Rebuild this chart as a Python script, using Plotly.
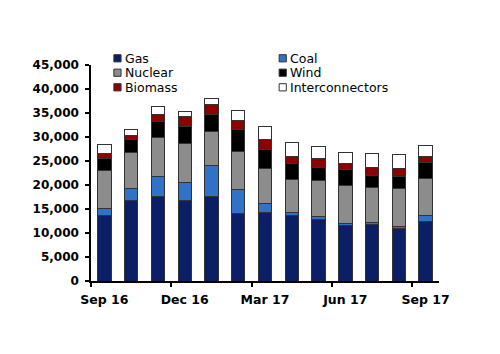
import plotly.graph_objects as go

months = ["Sep 16", "Oct 16", "Nov 16", "Dec 16", "Jan 17", "Feb 17", "Mar 17",
          "Apr 17", "May 17", "Jun 17", "Jul 17", "Aug 17", "Sep 17"]
tick_labels = ["Sep 16", "Dec 16", "Mar 17", "Jun 17", "Sep 17"]

gas = [13750, 16670, 17640, 16740, 17640, 13960, 14240, 13750, 12710, 11460, 11670, 10900, 12360]
coal = [1310, 2570, 4230, 3820, 6380, 5140, 1940, 490, 690, 550, 480, 420, 1240]
nuclear = [7920, 7560, 8060, 8120, 7230, 7840, 7360, 6870, 7500, 7990, 7360, 7850, 7720]
wind = [2440, 2580, 3260, 3470, 3540, 4520, 3890, 3270, 2710, 3330, 2570, 2700, 3470]
biomass = [1180, 1020, 1530, 2020, 2010, 2010, 1950, 1600, 1810, 1050, 1600, 1600, 1110]
interconnectors = [1800, 1200, 1600, 1180, 1180, 2010, 2910, 2880, 2570, 2430, 2920, 2850, 2290]

series = [
    ("Gas", gas, "#0b1f66"),
    ("Coal", coal, "#2f72c8"),
    ("Nuclear", nuclear, "#8c8c8c"),
    ("Wind", wind, "#000000"),
    ("Biomass", biomass, "#8e0000"),
    ("Interconnectors", interconnectors, "#ffffff"),
]

x_idx = list(range(len(months)))

fig = go.Figure()
for name, vals, color in series:
    fig.add_trace(go.Bar(
        x=x_idx, y=vals, name=name, marker_color=color,
        marker_line=dict(color="#333333", width=1),
        showlegend=False, customdata=months,
        hovertemplate="%{customdata}: %{y}<extra>" + name + "</extra>",
    ))

# invisible trace to carry the boundary-tick axis
fig.add_trace(go.Scatter(x=[None], y=[None], xaxis="x2", showlegend=False, hoverinfo="skip"))

# manual legend, two columns
L, R, T, B = 91, 439.5, 65, 281
W, H = R - L, B - T
def px(xp):
    return (xp - L) / W
def py(yp):
    return (B - yp) / H

leg_cols = [117.5, 283]
leg_rows = [58.3, 72.7, 87.3]
order = [["Gas", "Nuclear", "Biomass"], ["Coal", "Wind", "Interconnectors"]]
colors = {n: c for n, _, c in series}
for ci, col in enumerate(order):
    for ri, name in enumerate(col):
        cx, cy = leg_cols[ci], leg_rows[ri]
        fig.add_shape(type="rect", xref="paper", yref="paper",
                      x0=px(cx - 3.6), x1=px(cx + 3.6), y0=py(cy + 3.6), y1=py(cy - 3.6),
                      fillcolor=colors[name], line=dict(color="#333333", width=1))
        fig.add_annotation(xref="paper", yref="paper", x=px(cx + 5.5), y=py(cy),
                           xanchor="left", yanchor="middle", text=name, showarrow=False,
                           font=dict(family="DejaVu Sans", size=12.5, color="#000000"))

fig.update_layout(
    width=500, height=354,
    margin=dict(l=L, r=500 - R, t=T, b=354 - B),
    paper_bgcolor="white", plot_bgcolor="white",
    barmode="stack", bargap=0.5,
    font=dict(family="DejaVu Sans", color="#000000"),
    xaxis=dict(range=[-0.5, 12.5], tickvals=[0, 3, 6, 9, 12], ticktext=tick_labels,
               ticks="", showgrid=False, zeroline=False, showline=True,
               linecolor="#000000", linewidth=1.5, ticklabelstandoff=6,
               tickfont=dict(family="DejaVu Sans", size=12.5, weight="bold")),
    xaxis2=dict(range=[-0.5, 12.5], overlaying="x", anchor="y", side="bottom",
                tickvals=[-0.5, 2.5, 5.5, 8.5, 11.5], ticks="outside", ticklen=5,
                tickwidth=1.5, tickcolor="#000000", showticklabels=False,
                showgrid=False, zeroline=False, showline=False),
    yaxis=dict(range=[0, 45000], tickvals=list(range(0, 45001, 5000)),
               tickformat=",d", ticks="outside", ticklen=4, tickwidth=1.5,
               tickcolor="#000000", showgrid=False, zeroline=False,
               showline=True, linecolor="#000000", linewidth=1.5,
               ticklabelstandoff=4,
               tickfont=dict(family="DejaVu Sans", size=12, weight="bold")),
)

fig.write_html("out.html")
